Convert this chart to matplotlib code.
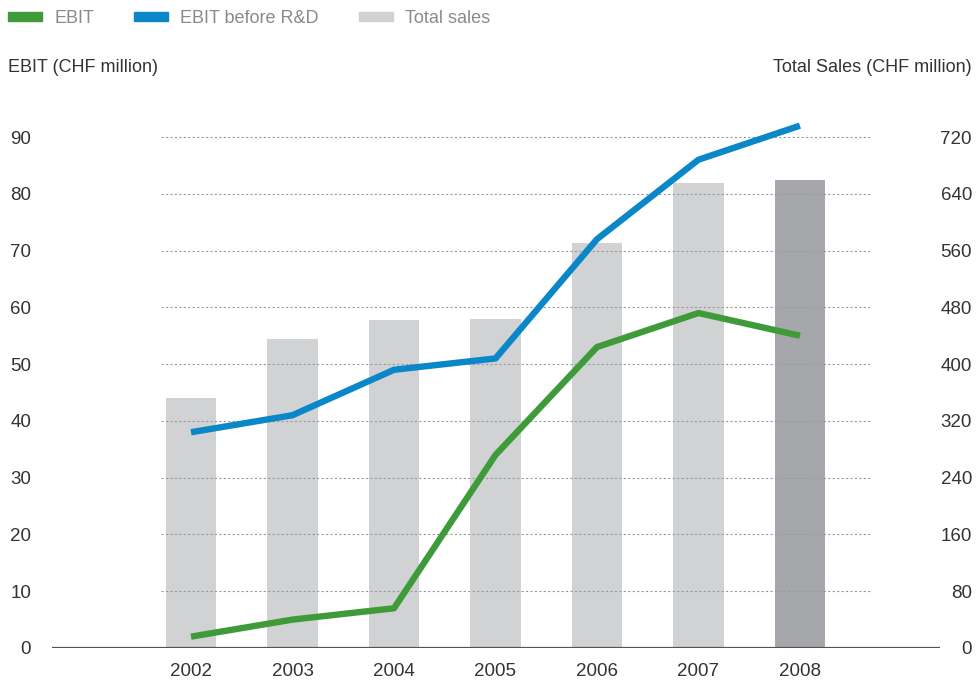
import numpy as np
import matplotlib
matplotlib.use("Agg")
import matplotlib.pyplot as plt
from matplotlib.patches import Patch

# -------------------------
# DATA
# -------------------------
years = ["2002", "2003", "2004", "2005", "2006", "2007", "2008"]
ebit = [2, 5, 7, 34, 53, 59, 55]
ebit_before_rd = [38, 41, 49, 51, 72, 86, 92]
total_sales = [352, 435, 462, 463, 570, 655, 659]

left_ticks = [0, 10, 20, 30, 40, 50, 60, 70, 80, 90]
right_ticks = [0, 80, 160, 240, 320, 400, 480, 560, 640, 720]

GREEN = "#3f9a3a"
BLUE = "#0a87c9"
BAR_LIGHT = "#d1d2d4"
BAR_DARK = "#a6a7aa"
TXT = "#333333"

plt.rcParams["font.family"] = ["Liberation Sans", "DejaVu Sans"]

fig = plt.figure(figsize=(9.77, 6.82), dpi=100)
W, H = 977, 682
px_per_unit = (648 - 137) / 90.0
ax = fig.add_axes([52 / W, (H - 648) / H, (940 - 52) / W, 95 * px_per_unit / H])
ax2 = ax.twinx()

x = np.arange(len(years))

# bars on the sales axis
bar_colors = [BAR_LIGHT] * (len(years) - 1) + [BAR_DARK]
ax2.bar(x, total_sales, width=0.5, color=bar_colors, zorder=1)
ax2.set_ylim(0, 95 * 8)

# lines on the EBIT axis, placed above the bars
ax.set_zorder(ax2.get_zorder() + 1)
ax.patch.set_visible(False)
ax.set_ylim(0, 95)
ax.set_xlim(-1.37, 7.38)

for t in left_ticks[1:]:
    ax.hlines(t, -0.3, 6.71, colors="#9a9a9a", linestyles=(0, (2, 2)), linewidth=0.8, zorder=1)

ax.plot(x, ebit_before_rd, color=BLUE, linewidth=4.6, solid_capstyle="butt", zorder=3)
ax.plot(x, ebit, color=GREEN, linewidth=4.6, solid_capstyle="butt", zorder=3)
ax.axhline(0, color="#555555", linewidth=1.6, zorder=4)

for a in (ax, ax2):
    for s in a.spines.values():
        s.set_visible(False)

ax.set_xticks(x)
ax.set_xticklabels(years)
ax.set_yticks(left_ticks)
ax.tick_params(axis="both", length=0, labelsize=13.5, colors=TXT)
ax.tick_params(axis="y", pad=15)
ax.tick_params(axis="x", pad=11)

ax2.set_yticks(right_ticks)
ax2.tick_params(axis="y", length=0, labelsize=13.5, colors=TXT, pad=23)
for lab in ax2.get_yticklabels():
    lab.set_horizontalalignment("right")

fig.text(8 / W, 1 - 67 / H, "EBIT (CHF million)", fontsize=13, color=TXT, va="center", ha="left")
fig.text(972 / W, 1 - 67 / H, "Total Sales (CHF million)", fontsize=13, color=TXT, va="center", ha="right")

handles = [Patch(color=GREEN), Patch(color=BLUE), Patch(color=BAR_LIGHT)]
leg = fig.legend(handles, ["EBIT", "EBIT before R&D", "Total sales"], loc="upper left",
                 bbox_to_anchor=(8 / W, 1 - 10 / H), borderpad=0, borderaxespad=0,
                 ncol=3, frameon=False, fontsize=13,
                 handlelength=1.9, handleheight=0.45, handletextpad=0.67, columnspacing=2.2)
for t in leg.get_texts():
    t.set_color("#8a8a8a")

fig.savefig("out.png", dpi=100)
